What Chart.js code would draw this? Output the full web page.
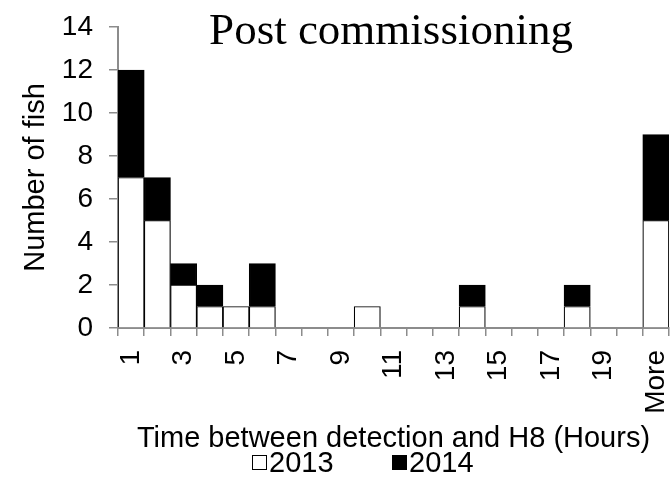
<!DOCTYPE html>
<html>
<head>
<meta charset="utf-8">
<script src="https://cdn.jsdelivr.net/npm/chart.js@4.4.1/dist/chart.umd.min.js"></script>
<style>
  html, body { margin: 0; padding: 0; background: #fff; }
</style>
</head>
<body>
<canvas id="fishChart" width="670" height="480"></canvas>
<script>
// categories (hours between detection and H8)
const hours = ['1', '2', '3', '4', '5', '6', '7', '8', '9', '10',
  '11', '12', '13', '14', '15', '16', '17', '18', '19', '20', 'More'];

// number of fish per year
const fish2013 = [7, 5, 2, 1, 1, 1, 0, 0, 0, 1, 0, 0, 0, 1, 0, 0, 0, 1, 0, 0, 5];
const fish2014 = [5, 2, 1, 1, 0, 2, 0, 0, 0, 0, 0, 0, 0, 1, 0, 0, 0, 1, 0, 0, 4];

const yMax = 14;
const yStep = 2;

const SANS = "'Liberation Sans', Arial, sans-serif";
const AXIS_GREY = '#8c8c8c';

// chart title sits over the plot, so draw it ourselves
const titlePlugin = {
  id: 'overlayTitle',
  afterDraw(chart) {
    const ctx = chart.ctx;
    ctx.save();
    ctx.font = "45px 'Liberation Serif', 'Times New Roman', serif";
    ctx.fillStyle = '#000';
    ctx.textAlign = 'center';
    ctx.textBaseline = 'alphabetic';
    ctx.fillText('Post commissioning', 391, 44);
    ctx.restore();
  }
};

// compact legend like the spreadsheet one
const legendPlugin = {
  id: 'smallLegend',
  afterDraw(chart) {
    const ctx = chart.ctx;
    const starts = [252, 392];
    ctx.save();
    ctx.font = '29px ' + SANS;
    ctx.textBaseline = 'middle';
    ctx.textAlign = 'left';
    chart.data.datasets.forEach((ds, i) => {
      const x = starts[i];
      ctx.fillStyle = ds.backgroundColor;
      ctx.fillRect(x, 455, 15, 15);
      ctx.strokeStyle = '#000';
      ctx.lineWidth = 1;
      ctx.strokeRect(x + 0.5, 455.5, 14, 14);
      ctx.fillStyle = '#000';
      ctx.fillText(ds.label, x + 17, 464);
    });
    ctx.restore();
  }
};

const ctx = document.getElementById('fishChart').getContext('2d');
const chart = new Chart(ctx, {
  type: 'bar',
  data: {
    labels: hours,
    datasets: [
      {
        label: '2013',
        data: fish2013,
        backgroundColor: '#ffffff',
        borderColor: '#000000',
        borderWidth: 1.2,
        barPercentage: 1,
        categoryPercentage: 1
      },
      {
        label: '2014',
        data: fish2014,
        backgroundColor: '#000000',
        borderColor: '#000000',
        borderWidth: 1.2,
        barPercentage: 1,
        categoryPercentage: 1
      }
    ]
  },
  options: {
    responsive: false,
    animation: false,
    layout: {
      padding: { left: 0, right: 1, top: 27, bottom: 0 }
    },
    plugins: {
      legend: { display: false },
      title: { display: false },
      tooltip: { enabled: false }
    },
    scales: {
      x: {
        stacked: true,
        afterFit(scale) {
          scale.height = 152;
          scale.paddingLeft = 0;
          scale.paddingRight = 0;
        },
        border: { color: AXIS_GREY, width: 2 },
        grid: {
          offset: true,
          drawOnChartArea: false,
          drawTicks: true,
          tickLength: 8,
          color: AXIS_GREY,
          lineWidth: 1.5
        },
        ticks: {
          autoSkip: false,
          minRotation: 90,
          maxRotation: 90,
          padding: 14,
          color: '#000',
          font: { family: SANS, size: 28 },
          callback(value, index) {
            return index % 2 === 0 ? this.getLabelForValue(value) : '';
          }
        },
        title: {
          display: true,
          text: 'Time between detection and H8 (Hours)',
          color: '#000',
          font: { family: SANS, size: 29 },
          padding: { top: 0, bottom: 24 }
        }
      },
      y: {
        stacked: true,
        min: 0,
        max: yMax,
        afterFit(scale) {
          scale.width = 118;
          scale.paddingTop = 0;
          scale.paddingBottom = 0;
        },
        border: { color: AXIS_GREY, width: 2 },
        grid: {
          drawOnChartArea: false,
          drawTicks: true,
          tickLength: 9,
          color: AXIS_GREY,
          lineWidth: 1.5
        },
        ticks: {
          stepSize: yStep,
          padding: 16,
          color: '#000',
          font: { family: SANS, size: 28 }
        },
        title: {
          display: true,
          text: 'Number of fish',
          color: '#000',
          font: { family: SANS, size: 29 },
          padding: { top: 19, bottom: 0 }
        }
      }
    }
  },
  plugins: [titlePlugin, legendPlugin]
});
</script>
</body>
</html>
